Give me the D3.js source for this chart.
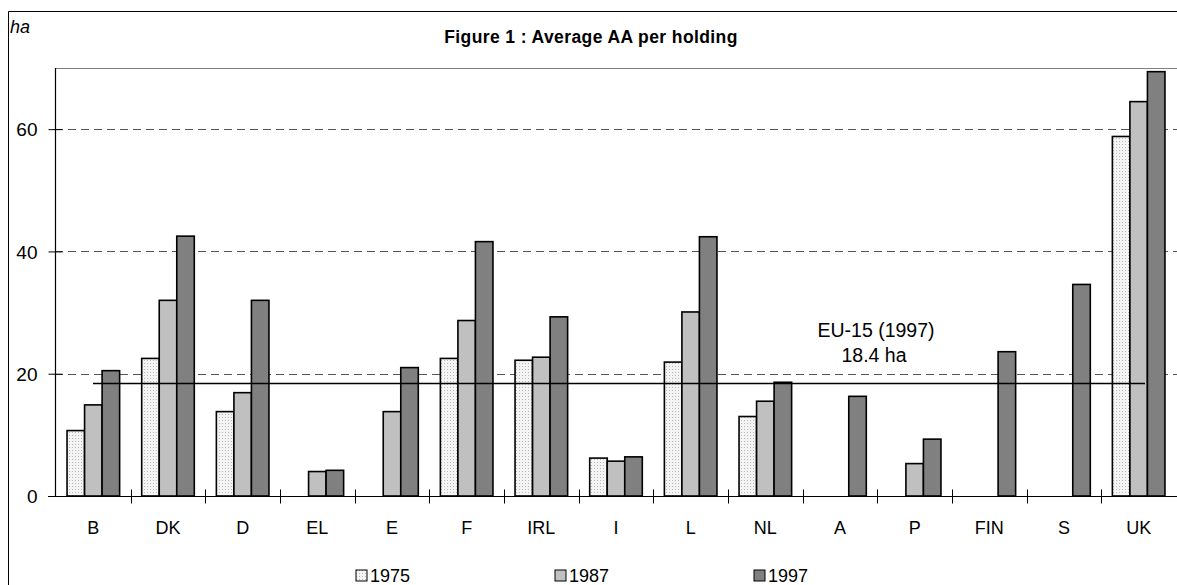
<!DOCTYPE html>
<html>
<head>
<meta charset="utf-8">
<script src="https://cdn.jsdelivr.net/npm/d3@7"></script>
<style>
  body { margin: 0; background: #fff; }
  text { font-family: "Liberation Sans", Arial, sans-serif; fill: #000; }
</style>
</head>
<body>
<svg id="chart"></svg>
<script>
// data (ha per holding)
var countries = ["B", "DK", "D", "EL", "E", "F", "IRL", "I", "L", "NL", "A", "P", "FIN", "S", "UK"];
var years = ["1975", "1987", "1997"];
var v1975 = [10.7, 22.5, 13.8, null, null, 22.5, 22.2, 6.2, 21.9, 13.0, null, null, null, null, 58.8];
var v1987 = [14.9, 32.0, 16.9, 4.0, 13.8, 28.7, 22.7, 5.7, 30.1, 15.5, null, 5.3, null, null, 64.5];
var v1997 = [20.5, 42.5, 32.0, 4.2, 21.0, 41.6, 29.3, 6.4, 42.4, 18.6, 16.3, 9.3, 23.6, 34.6, 69.4];
var yTicks = [0, 20, 40, 60];
var euAverage = 18.4;

var width = 1177,
    height = 585,
    margin = {top: 68, right: 1, left: 55, bottom: 89};

var svg = d3.select("#chart")
    .attr("width", width)
    .attr("height", height);

// dotted pattern for 1975 bars
var defs = svg.append("defs");
var pat = defs.append("pattern")
    .attr("id", "dots")
    .attr("width", 3)
    .attr("height", 3)
    .attr("patternUnits", "userSpaceOnUse");
pat.append("rect").attr("width", 3).attr("height", 3).attr("fill", "#f4f4f4");
pat.append("rect").attr("width", 1).attr("height", 1).attr("fill", "#b8b8b8");

var fills = {"1975": "url(#dots)", "1987": "#c0c0c0", "1997": "#808080"};

// outer frame
svg.append("path")
    .attr("d", "M8.5," + height + "V11.5H" + width)
    .style("fill", "none")
    .style("stroke", "#000")
    .style("stroke-width", 1);

svg.append("text")
    .attr("x", 10)
    .attr("y", 33)
    .style("font-size", "18px")
    .style("font-style", "italic")
    .text("ha");

svg.append("text")
    .attr("x", 591)
    .attr("y", 43)
    .attr("text-anchor", "middle")
    .style("font-size", "17.5px")
    .style("font-weight", "bold")
    .style("letter-spacing", "0.4px")
    .text("Figure 1 : Average AA per holding");

var x = d3.scaleBand()
    .domain(countries)
    .range([margin.left + 1, width - margin.right])
    .paddingInner(0)
    .paddingOuter(0);

var x1 = d3.scaleBand()
    .domain(years)
    .range([0, x.bandwidth()])
    .paddingOuter(0.63)
    .paddingInner(0);

var y = d3.scaleLinear()
    .domain([0, 70])
    .range([height - margin.bottom, margin.top]);

var g = svg.append("g");

// plot top border
g.append("line")
    .attr("x1", margin.left).attr("x2", width)
    .attr("y1", margin.top + 0.5).attr("y2", margin.top + 0.5)
    .style("stroke", "#808080")
    .style("stroke-width", 1.2);

// dashed gridlines
g.append("g")
    .selectAll("line")
    .data(yTicks.filter(function (d) { return d > 0; }))
    .enter()
    .append("line")
    .attr("x1", margin.left)
    .attr("x2", width)
    .attr("y1", function (d) { return Math.round(y(d)) + 0.5; })
    .attr("y2", function (d) { return Math.round(y(d)) + 0.5; })
    .style("stroke", "#555")
    .style("stroke-width", 1)
    .style("stroke-dasharray", "8,5");

// bars
var series = [v1975, v1987, v1997];
var barData = [];
countries.forEach(function (c, i) {
    years.forEach(function (yr, j) {
        if (series[j][i] != null) barData.push({country: c, year: yr, value: series[j][i]});
    });
});

g.append("g")
    .selectAll("rect")
    .data(barData)
    .enter()
    .append("rect")
    .attr("x", function (d) { return x(d.country) + x1(d.year); })
    .attr("y", function (d) { return y(d.value); })
    .attr("width", x1.bandwidth())
    .attr("height", function (d) { return y(0) - y(d.value); })
    .style("fill", function (d) { return fills[d.year]; })
    .style("stroke", "#000")
    .style("stroke-width", 1.6);

// EU-15 reference line
g.append("line")
    .attr("x1", 93).attr("x2", 1145)
    .attr("y1", y(euAverage)).attr("y2", y(euAverage))
    .style("stroke", "#000")
    .style("stroke-width", 1.5);

g.append("text")
    .attr("x", 876)
    .attr("y", 337)
    .attr("text-anchor", "middle")
    .style("font-size", "19.5px")
    .text("EU-15 (1997)");
g.append("text")
    .attr("x", 874)
    .attr("y", 362)
    .attr("text-anchor", "middle")
    .style("font-size", "19.5px")
    .text(euAverage + " ha");

// y axis
var yAxis = g.append("g")
    .attr("transform", "translate(" + (margin.left + 0.5) + ",0)")
    .call(d3.axisLeft(y).tickValues(yTicks).tickSize(7).tickPadding(11));
yAxis.select(".domain").attr("d", "M0," + y(0) + "V" + margin.top).style("stroke", "#000").style("stroke-width", 1.2);
yAxis.selectAll(".tick line").attr("x2", -7).attr("x1", 7).style("stroke", "#000");
yAxis.selectAll(".tick").filter(function (d) { return d === 0; }).select("line").attr("x1", 0);
yAxis.selectAll("text")
    .attr("dy", "0.36em")
    .style("font-size", "19px")
    .style("font-family", "Liberation Sans, Arial, sans-serif");

// x axis
var xAxis = g.append("g")
    .attr("transform", "translate(0," + (y(0) + 0.5) + ")");
xAxis.append("line")
    .attr("x1", margin.left - 7).attr("x2", width)
    .style("stroke", "#000")
    .style("stroke-width", 1.2);
xAxis.selectAll(".tk")
    .data(countries.slice(1))
    .enter()
    .append("line")
    .attr("class", "tk")
    .attr("x1", function (d) { return Math.round(x(d)) + 0.5; })
    .attr("x2", function (d) { return Math.round(x(d)) + 0.5; })
    .attr("y1", -7).attr("y2", 7)
    .style("stroke", "#000");
xAxis.selectAll(".lbl")
    .data(countries)
    .enter()
    .append("text")
    .attr("class", "lbl")
    .attr("x", function (d) { return x(d) + x.bandwidth() / 2; })
    .attr("y", 37)
    .attr("text-anchor", "middle")
    .style("font-size", "18px")
    .text(function (d) { return d; });

// legend
var legendX = [356, 555, 754];
var legend = svg.append("g")
    .selectAll("g")
    .data(years)
    .enter()
    .append("g")
    .attr("transform", function (d, i) { return "translate(" + legendX[i] + ",570)"; });
legend.append("rect")
    .attr("width", 11).attr("height", 11)
    .style("fill", function (d) { return fills[d]; })
    .style("stroke", "#000")
    .style("stroke-width", 1);
legend.append("text")
    .attr("x", 14)
    .attr("y", 12)
    .style("font-size", "18px")
    .text(function (d) { return d; });
</script>
</body>
</html>
